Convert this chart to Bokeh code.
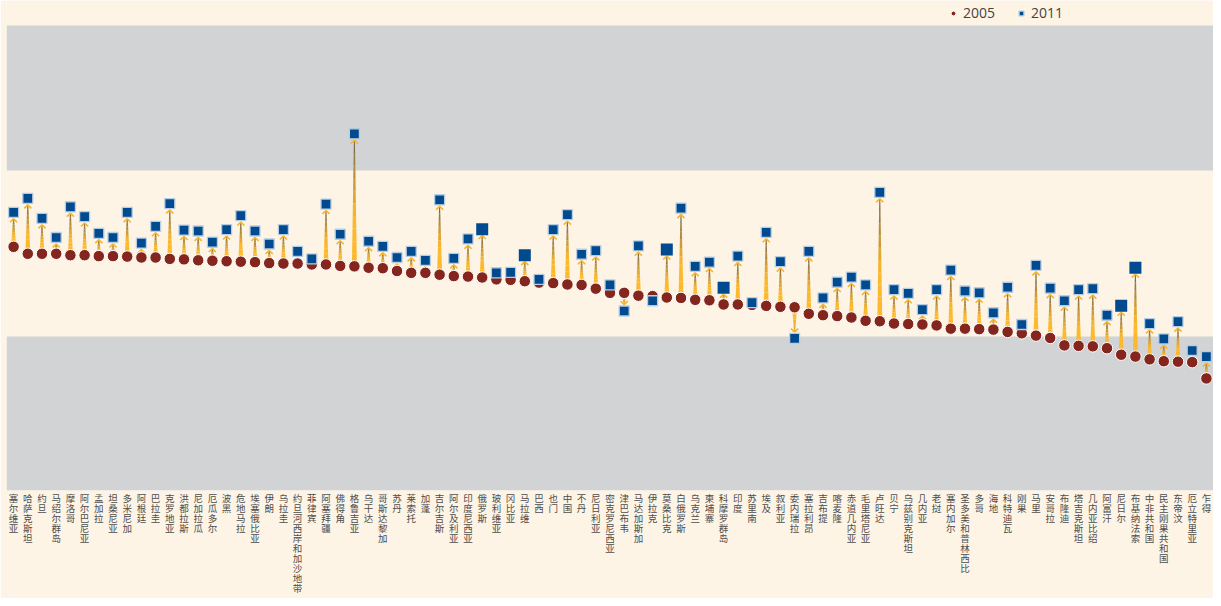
from bokeh.plotting import figure
from bokeh.models import Range1d, BoxAnnotation, FixedTicker, Legend, LegendItem, ColumnDataSource
from bokeh.embed import file_html
from bokeh.resources import INLINE

countries = [
    "塞尔维亚", "哈萨克斯坦", "约旦", "马绍尔群岛", "摩洛哥", "阿尔巴尼亚", "孟加拉", "坦桑尼亚",
    "多米尼加", "阿根廷", "巴拉圭", "克罗地亚", "洪都拉斯", "尼加拉瓜", "厄瓜多尔", "波黑",
    "危地马拉", "埃塞俄比亚", "伊朗", "乌拉圭", "约旦河西岸和加沙地带", "菲律宾", "阿塞拜疆", "佛得角",
    "格鲁吉亚", "乌干达", "哥斯达黎加", "苏丹", "莱索托", "加蓬", "吉尔吉斯", "阿尔及利亚",
    "印度尼西亚", "俄罗斯", "玻利维亚", "冈比亚", "马拉维", "巴西", "也门", "中国",
    "不丹", "尼日利亚", "密克罗尼西亚", "津巴布韦", "马达加斯加", "伊拉克", "莫桑比克", "白俄罗斯",
    "乌克兰", "柬埔寨", "科摩罗群岛", "印度", "苏里南", "埃及", "叙利亚", "委内瑞拉",
    "塞拉利昂", "吉布提", "喀麦隆", "赤道几内亚", "毛里塔尼亚", "卢旺达", "贝宁", "乌兹别克斯坦",
    "几内亚", "老挝", "塞内加尔", "圣多美和普林西比", "多哥", "海地", "科特迪瓦", "刚果",
    "马里", "安哥拉", "布隆迪", "塔吉克斯坦", "几内亚比绍", "阿富汗", "尼日尔", "布基纳法索",
    "中非共和国", "民主刚果共和国", "东帝汶", "厄立特里亚", "乍得",
]

y2005 = [
    52.4, 50.9, 50.9, 50.9, 50.6, 50.6, 50.4, 50.4, 50.3, 50.1, 50.1, 49.8, 49.7, 49.5, 49.4, 49.3,
    49.2, 49.1, 48.9, 48.8, 48.8, 48.6, 48.6, 48.3, 48.2, 47.9, 47.8, 47.2, 46.8, 46.8, 46.4, 46.1,
    46.0, 45.8, 45.4, 45.3, 45.0, 44.7, 44.6, 44.3, 44.2, 43.4, 42.5, 42.5, 41.9, 41.8, 41.5, 41.4,
    41.0, 40.9, 40.0, 40.0, 39.9, 39.7, 39.5, 39.4, 38.0, 37.7, 37.5, 37.2, 36.5, 36.4, 35.9, 35.8,
    35.7, 35.5, 34.8, 34.8, 34.7, 34.6, 34.1, 33.8, 33.3, 32.8, 31.2, 31.1, 31.0, 30.6, 29.2, 28.8,
    28.2, 27.8, 27.7, 27.6, 24.1,
]

y2011 = [
    59.8, 62.8, 58.5, 54.4, 61.0, 58.9, 55.3, 54.4, 59.8, 53.2, 56.8, 61.7, 56.0, 55.8, 53.4, 56.1,
    59.1, 55.8, 53.0, 56.1, 51.4, 49.8, 61.6, 55.1, 76.7, 53.6, 52.5, 50.1, 51.4, 49.5, 62.5, 49.9,
    54.1, 56.2, 46.8, 46.9, 50.6, 45.4, 56.1, 59.3, 50.8, 51.6, 44.2, 38.6, 52.6, 40.8, 51.8, 60.7,
    48.2, 49.1, 43.6, 50.4, 40.4, 55.5, 49.2, 32.7, 51.4, 41.4, 44.8, 45.9, 44.2, 64.1, 43.2, 42.4,
    38.9, 43.2, 47.4, 42.9, 42.5, 38.2, 43.7, 35.7, 48.4, 43.5, 40.8, 43.2, 43.4, 37.7, 39.7, 47.9,
    35.9, 32.6, 36.3, 30.1, 28.8,
]

band_low = 33.1
band_high = 68.8
band_top = 100
y_lo = 0
series_names = ["2005", "2011"]

# style: countries whose 2011 marker is drawn larger without outline
big_markers = {"俄罗斯", "马拉维", "莫桑比克", "科摩罗群岛", "尼日尔", "布基纳法索"}

CREAM = "#fdf4e6"
GRAY = "#d2d3d5"
RED = "#84261e"
BLUE = "#004a8f"
YELLOW = (253, 185, 45)
DARK = (110, 100, 80)

W, H = 1213, 598
LEFT, BOTTOM = 6, 107
LEGEND_STRIP = 25          # px of cream strip above the top band, holding the legend
n = len(countries)
x0, x1 = -0.5, n - 0.5

frame_h = H - BOTTOM
px_y = (frame_h - LEGEND_STRIP) / (band_top - y_lo)
y_hi = band_top + LEGEND_STRIP / px_y
px_x = (W - LEFT) / (x1 - x0)

p = figure(width=W, height=H, x_range=Range1d(x0, x1), y_range=Range1d(y_lo, y_hi),
           output_backend="svg", toolbar_location=None, y_axis_location=None,
           min_border_left=LEFT, min_border_right=0, min_border_top=0, min_border_bottom=BOTTOM,
           background_fill_color=CREAM, border_fill_color=CREAM, outline_line_color=None)
p.grid.visible = False

p.add_layout(BoxAnnotation(top=band_low, fill_color=GRAY, fill_alpha=1, line_color=None, level="underlay"))
p.add_layout(BoxAnnotation(bottom=band_high, top=band_top, fill_color=GRAY, fill_alpha=1,
                           line_color=None, level="underlay"))

xs_p, ys_p, cols = [], [], []
ch_xs, ch_ys = [], []
NSEG = 10
for i in range(n):
    c, s = y2005[i], y2011[i]
    d = 1 if s >= c else -1
    L = abs(s - c) * px_y
    tip_off = 6.5
    tip = s - d * tip_off / px_y
    shaft = L - tip_off
    if shaft > 1.5:
        hw0 = 2.5 / px_x
        hw1 = 0.5 / px_x
        for k in range(NSEG):
            t0, t1 = k / NSEG, (k + 1) / NSEG
            ya = c + d * t0 * shaft / px_y
            yb = c + d * t1 * shaft / px_y
            wa = hw0 + (hw1 - hw0) * t0
            wb = hw0 + (hw1 - hw0) * t1
            xs_p.append([i - wa, i + wa, i + wb, i - wb])
            ys_p.append([ya, ya, yb, yb])
            tm = (t0 + t1) / 2
            f = 0.0 if tm < 0.4 else ((tm - 0.4) / 0.6) ** 1.2
            if d < 0:
                f *= 0.3
            rgb = tuple(int(YELLOW[j] + (DARK[j] - YELLOW[j]) * f) for j in range(3))
            cols.append("#%02x%02x%02x" % rgb)
    if L > 9:
        aw = 3.6 / px_x
        ah = 3.4 / px_y
        ch_xs.append([i - aw, i, i + aw])
        ch_ys.append([tip - d * ah, tip, tip - d * ah])

p.patches(xs=xs_p, ys=ys_p, fill_color=cols, line_color=None)
p.multi_line(xs=ch_xs, ys=ch_ys, line_color="#f8b42a", line_width=1.6)

xi = list(range(n))
r05 = p.scatter(x=xi, y=y2005, marker="circle", size=11.5, fill_color=RED,
                line_color="white", line_width=1)
sq_src = ColumnDataSource(dict(
    x=xi, y=y2011,
    size=[12 if c in big_markers else 10 for c in countries],
    la=[0.0 if c in big_markers else 1.0 for c in countries],
))
r11 = p.scatter(x="x", y="y", size="size", line_alpha="la", source=sq_src, marker="square",
                fill_color=BLUE, line_color="#b7cde3", line_width=1.3)

legend = Legend(items=[LegendItem(label=series_names[0], renderers=[r05]),
                       LegendItem(label=series_names[1], renderers=[r11])],
                location=(941, frame_h - 23), orientation="horizontal",
                background_fill_alpha=0, border_line_color=None,
                label_text_font="Open Sans", label_text_font_size="14px", label_text_color="#444444",
                glyph_width=12, glyph_height=12, label_height=14, label_standoff=4,
                spacing=20, padding=1, margin=0)
p.add_layout(legend, "center")

ax = p.xaxis[0]
ax.ticker = FixedTicker(ticks=xi)
ax.major_label_overrides = {i: "\n".join(name) for i, name in enumerate(countries)}
ax.axis_line_color = None
ax.major_tick_line_color = None
ax.minor_tick_line_color = None
ax.major_label_standoff = -6
ax.major_label_orientation = "horizontal"
ax.major_label_text_font = "Noto Sans CJK SC"
ax.major_label_text_font_size = "9.5px"
ax.major_label_text_line_height = 0.72
ax.major_label_text_color = "#4d4d4d"

open("out.html", "w").write(file_html(p, INLINE))
